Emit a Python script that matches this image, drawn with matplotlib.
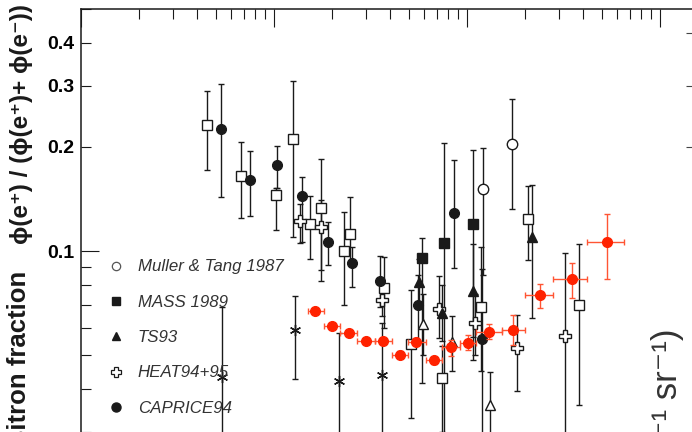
import matplotlib.pyplot as plt
from matplotlib.lines import Line2D
from matplotlib.ticker import LogLocator, FuncFormatter, NullFormatter, FixedLocator, NullLocator

# PAMELA (red), bin edges give the horizontal bars
pam_e = [1.64, 2.00, 2.44, 3.01, 3.67, 4.53, 5.44, 6.77, 8.26, 10.2, 13.05, 17.4, 24.0, 35.0, 53.3]
pam_f = [0.0672, 0.0607, 0.0581, 0.0550, 0.0550, 0.0502, 0.0547, 0.0483, 0.0529, 0.0543,
         0.0583, 0.0590, 0.0745, 0.0828, 0.1062]
pam_lo = [0.0658, 0.0595, 0.0570, 0.0540, 0.0539, 0.0490, 0.0534, 0.0470, 0.0498, 0.0518,
          0.0556, 0.0535, 0.0686, 0.0730, 0.0828]
pam_hi = [0.0686, 0.0619, 0.0592, 0.0560, 0.0561, 0.0514, 0.0560, 0.0494, 0.0555, 0.0573,
          0.0615, 0.0653, 0.0804, 0.0923, 0.128]
pam_edges = [1.51, 1.81, 2.21, 2.70, 3.33, 4.10, 4.98, 6.13, 7.47, 9.18, 11.2, 15.2, 20.0,
             27.9, 42.2, 65.3]

# open squares
sq_e = [0.45, 0.677, 1.028, 1.249, 1.537, 1.752, 2.322, 2.485, 3.742, 5.145, 7.474, 11.86, 20.7, 38.2]
sq_f = [0.231, 0.165, 0.145, 0.211, 0.120, 0.133, 0.100, 0.112, 0.078, 0.054, 0.043, 0.069, 0.124, 0.070]
sq_lo = [0.171, 0.125, 0.115, 0.110, 0.095, 0.088, 0.070, 0.093, 0.060, 0.033, 0.030, 0.045, 0.094, 0.036]
sq_hi = [0.290, 0.206, 0.152, 0.311, 0.144, 0.185, 0.130, 0.143, 0.096, 0.077, 0.053, 0.1025, 0.154, 0.1045]

# CAPRICE94
cap_e = [0.533, 0.751, 1.036, 1.397, 1.905, 2.536, 3.555, 5.614, 8.564, 12.04]
cap_f = [0.225, 0.160, 0.177, 0.144, 0.106, 0.0925, 0.082, 0.070, 0.1285, 0.0557]
cap_lo = [0.143, 0.126, 0.152, 0.106, 0.091, 0.0785, 0.069, 0.055, 0.0895, 0.02]
cap_hi = [0.304, 0.195, 0.201, 0.164, 0.121, 0.103, 0.097, 0.085, 0.183, 0.089]

# MASS 1989
mass_e = [5.85, 7.65, 10.74]
mass_f = [0.0953, 0.1057, 0.1194]
mass_lo = [0.0416, 0.02, 0.0565]
mass_hi = [0.109, 0.205, 0.196]

# TS93
ts_e = [5.68, 7.47, 10.74, 21.9]
ts_f = [0.0815, 0.066, 0.0768, 0.1095]
ts_lo = [0.068, 0.055, 0.0484, 0.0641]
ts_hi = [0.095, 0.080, 0.105, 0.155]

# Muller & Tang 1987
mt_e = [12.19, 17.17]
mt_f = [0.151, 0.204]
mt_lo = [0.085, 0.132]
mt_hi = [0.199, 0.2755]

# HEAT94+95
heat_e = [1.369, 1.759, 3.627, 7.21, 11.04, 18.23, 32.3]
heat_f = [0.122, 0.117, 0.072, 0.068, 0.062, 0.0523, 0.0569]
heat_lo = [0.1057, 0.082, 0.065, 0.0559, 0.050, 0.0394, 0.02]
heat_hi = [0.137, 0.140, 0.080, 0.0847, 0.075, 0.0653, 0.099]

# open triangles
ot_e = [5.92, 8.36, 13.12]
ot_f = [0.0614, 0.0547, 0.0358]
ot_lo = [0.050, 0.045, 0.02]
ot_hi = [0.075, 0.065, 0.0448]

# asterisks
ast_e = [0.54, 1.293, 2.188, 3.627]
ast_f = [0.0432, 0.0591, 0.042, 0.0438]
ast_lo = [0.02, 0.0427, 0.02, 0.02]
ast_hi = [0.0689, 0.0743, 0.058, 0.062]

legend_labels = ["Muller & Tang 1987", "MASS 1989", "TS93", "HEAT94+95", "CAPRICE94"]
right_ticks = [0.2, 0.3, 0.428]

INK = "#1a1a1a"
RED = "#ff2200"
RED_BAR = "#ff5533"


def errs(y, lo, hi):
    return [[a - b for a, b in zip(y, lo)], [c - a for a, c in zip(y, hi)]]


def series(ax, x, y, lo, hi, **kw):
    ax.errorbar(x, y, yerr=errs(y, lo, hi), fmt="none", ecolor=INK, elinewidth=1.0,
                capsize=2.2, capthick=1.0, zorder=2)
    ax.plot(x, y, ls="none", zorder=3, **kw)


fig = plt.figure(figsize=(6.92, 4.32), dpi=100)
ax = fig.add_axes([81 / 692, -0.382, 619 / 692, 1.3607])
ax.set_xscale("log")
ax.set_yscale("log")
ax.set_xlim(0.1, 161.8)
ax.set_ylim(0.01, 0.5)

series(ax, sq_e, sq_f, sq_lo, sq_hi, marker="s", ms=7, mfc="white", mec=INK, mew=1.0)
series(ax, ast_e, ast_f, ast_lo, ast_hi, marker=(6, 2, 0), ms=8, mec=INK, mew=1.0)
series(ax, ot_e, ot_f, ot_lo, ot_hi, marker="^", ms=7, mfc="white", mec=INK, mew=1.0)
series(ax, heat_e, heat_f, heat_lo, heat_hi, marker="P", ms=8, mfc="white", mec=INK, mew=1.0)
series(ax, ts_e, ts_f, ts_lo, ts_hi, marker="^", ms=6.5, color=INK)
series(ax, mass_e, mass_f, mass_lo, mass_hi, marker="s", ms=6.5, color=INK)
series(ax, mt_e, mt_f, mt_lo, mt_hi, marker="o", ms=7.5, mfc="white", mec=INK, mew=1.0)
series(ax, cap_e, cap_f, cap_lo, cap_hi, marker="o", ms=7, color=INK)

# PAMELA with bin-width bars
xl = [e - a for e, a in zip(pam_e, pam_edges[:-1])]
xr = [b - e for e, b in zip(pam_e, pam_edges[1:])]
ax.errorbar(pam_e, pam_f, xerr=[xl, xr], yerr=errs(pam_f, pam_lo, pam_hi), fmt="none",
            ecolor=RED_BAR, elinewidth=1.0, capsize=2.2, capthick=1.0, zorder=4)
ax.plot(pam_e, pam_f, ls="none", marker="o", ms=7, color=RED, zorder=5)

# ticks
ax.xaxis.set_major_locator(LogLocator(base=10))
ax.xaxis.set_minor_locator(LogLocator(base=10, subs=range(2, 10)))
ax.yaxis.set_major_locator(LogLocator(base=10))
ax.yaxis.set_minor_locator(LogLocator(base=10, subs=range(2, 10)))
ax.xaxis.set_major_formatter(NullFormatter())
ax.xaxis.set_minor_formatter(NullFormatter())
ax.yaxis.set_major_formatter(FuncFormatter(lambda v, p: "0.1" if abs(v - 0.1) < 1e-9 else ""))
ax.yaxis.set_minor_formatter(FuncFormatter(
    lambda v, p: f"{v:.1f}" if 0.15 < v < 0.45 else ""))
ax.tick_params(which="both", direction="in", top=True, right=False, width=0.8,
               color=INK, pad=4.5)
ax.tick_params(which="major", length=13)
ax.tick_params(which="minor", length=7.2)
ax.tick_params(axis="y", which="both", labelsize=14)
for t in ax.yaxis.get_majorticklabels() + ax.yaxis.get_minorticklabels():
    t.set_fontweight("bold")
    t.set_family("Liberation Sans")
for s in ax.spines.values():
    s.set_linewidth(1.1)
    s.set_color(INK)

# the few ticks seen on the right-hand edge
ax2 = ax.twinx()
ax2.set_yscale("log")
ax2.set_ylim(ax.get_ylim())
ax2.yaxis.set_major_locator(FixedLocator(right_ticks))
ax2.yaxis.set_minor_locator(NullLocator())
ax2.yaxis.set_major_formatter(NullFormatter())
ax2.tick_params(axis="y", direction="in", length=10, width=0.8, color="#444444")
for s in ax2.spines.values():
    s.set_visible(False)

# legend
handles = [
    Line2D([], [], ls="none", marker="o", ms=6, mfc="white", mec="#555555", mew=0.9),
    Line2D([], [], ls="none", marker="s", ms=5.5, color=INK),
    Line2D([], [], ls="none", marker="^", ms=5.5, color=INK),
    Line2D([], [], ls="none", marker="P", ms=7, mfc="white", mec=INK, mew=0.9),
    Line2D([], [], ls="none", marker="o", ms=6.5, color=INK),
]
leg = ax.legend(handles, legend_labels, loc="upper left", bbox_to_anchor=(99 / 692, 1 - 251 / 432),
                bbox_transform=fig.transFigure, frameon=False, handlelength=1.0,
                handletextpad=0.8, labelspacing=1.2, borderpad=0,
                prop={"family": "Liberation Sans", "style": "italic", "size": 12.2})
for t in leg.get_texts():
    t.set_color("#333333")

# y label pieces
fig.text(19 / 692, 1 - 271 / 432, "Positron fraction", rotation=90, ha="center", va="top",
         fontsize=18.5, fontweight="bold", family=["Liberation Sans", "DejaVu Sans"], color=INK)
fig.text(22 / 692, 1 - 4 / 432, "ϕ(e⁺) / (ϕ(e⁺)+ ϕ(e⁻))", rotation=90, ha="center", va="top",
         fontsize=17.5, fontweight="bold", family=["Liberation Sans", "DejaVu Sans"], color=INK)

# neighbouring panel label fragment
fig.text(667 / 692, 1 - 328 / 432, "(GeV⁻¹ m⁻² s⁻¹ sr⁻¹)", rotation=90, ha="center", va="top",
         fontsize=25, family=["Liberation Sans", "DejaVu Sans"], color="#333333")

fig.savefig("out.png", dpi=100)
